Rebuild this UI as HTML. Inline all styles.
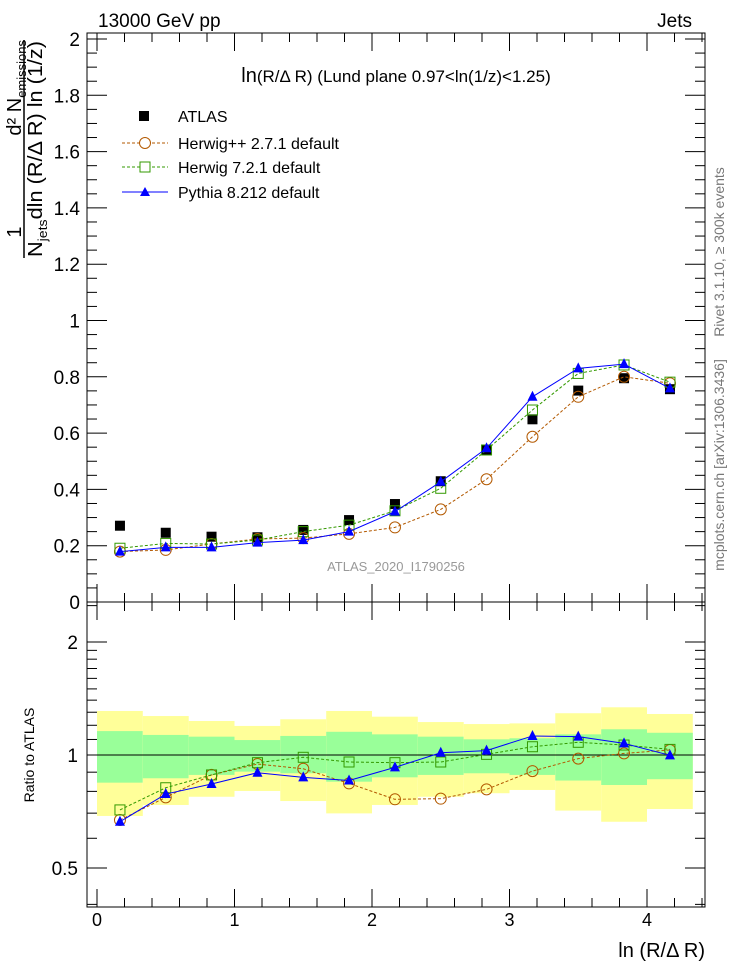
<!DOCTYPE html>
<html><head><meta charset="utf-8"><style>
html,body{margin:0;padding:0;background:#fff;}
svg{display:block;font-family:"Liberation Sans",sans-serif;}
</style></head><body>
<svg id="chart" width="746" height="972" xmlns="http://www.w3.org/2000/svg">
<g id="bands"></g>
<g id="axes"></g>
<g id="marks"></g>
<text x="98" y="27" font-size="19">13000 GeV pp</text>
<text x="692" y="27" font-size="19" text-anchor="end">Jets</text>
<text x="396" y="82" font-size="17" text-anchor="middle"><tspan font-size="20">ln</tspan>(R/Δ R) (Lund plane 0.97&lt;ln(1/z)&lt;1.25)</text>
<text x="396" y="571" font-size="13" fill="#999" text-anchor="middle">ATLAS_2020_I1790256</text>
<g>
 <rect x="139" y="111" width="10" height="10" fill="#000"/>
 <text x="178" y="122" font-size="16">ATLAS</text>
 <line x1="122" y1="143" x2="168" y2="143" stroke="#b35900" stroke-dasharray="3,2"/>
 <circle cx="145" cy="143" r="5.5" fill="#fff" stroke="#b35900"/>
 <text x="178" y="149" font-size="16">Herwig++ 2.7.1 default</text>
 <line x1="122" y1="167" x2="168" y2="167" stroke="#339900" stroke-dasharray="3,2"/>
 <rect x="140" y="162" width="10" height="10" fill="#fff" stroke="#339900"/>
 <text x="178" y="173" font-size="16">Herwig 7.2.1 default</text>
 <line x1="122" y1="192" x2="168" y2="192" stroke="#0000ff"/>
 <polygon points="145,187 150,196 140,196" fill="#0000ff"/>
 <text x="178" y="198" font-size="16">Pythia 8.212 default</text>
</g>
<g transform="translate(24,150) rotate(-90)">
 <text x="-82" y="-3" font-size="20" text-anchor="middle">1</text>
 <line x1="-108" y1="0" x2="110" y2="0" stroke="#000" stroke-width="1.5"/>
 <text x="110" y="-3" font-size="20" text-anchor="end">d² N<tspan font-size="13" dy="5">emissions</tspan></text>
 <text x="-107" y="18" font-size="20" textLength="216" lengthAdjust="spacingAndGlyphs">N<tspan font-size="13" dy="5">jets</tspan><tspan dy="-5">dln (R/Δ R) ln (1/z)</tspan></text>
</g>
<text transform="translate(34,755) rotate(-90)" font-size="14" text-anchor="middle">Ratio to ATLAS</text>
<text x="705" y="957" font-size="20" text-anchor="end">ln (R/Δ R)</text>
<text transform="translate(724,252) rotate(-90)" font-size="14" fill="#777" text-anchor="middle">Rivet 3.1.10, ≥ 300k events</text>
<text transform="translate(724,465) rotate(-90)" font-size="14" fill="#777" text-anchor="middle">mcplots.cern.ch [arXiv:1306.3436]</text>
</svg>
<script>
const xCenters=[0.167,0.5,0.833,1.167,1.5,1.833,2.167,2.5,2.833,3.167,3.5,3.833,4.167];
const binEdges=[0,0.333,0.667,1,1.333,1.667,2,2.333,2.667,3,3.333,3.667,4,4.333];
const atlas=[0.271,0.246,0.232,0.230,0.256,0.291,0.348,0.429,0.540,0.649,0.751,0.795,0.756];
const herwigpp=[0.179,0.185,0.206,0.224,0.227,0.242,0.265,0.329,0.436,0.587,0.729,0.800,0.777];
const herwig7=[0.191,0.208,0.206,0.220,0.250,0.273,0.324,0.404,0.540,0.682,0.812,0.842,0.781];
const pythia=[0.179,0.194,0.194,0.211,0.220,0.250,0.321,0.427,0.546,0.729,0.830,0.845,0.759];
const ratioHerwigpp=[0.671,0.771,0.885,0.946,0.919,0.840,0.762,0.765,0.810,0.906,0.978,1.010,1.031];
const ratioHerwig7=[0.714,0.818,0.885,0.954,0.986,0.958,0.954,0.958,1.004,1.052,1.081,1.063,1.035];
const ratioPythia=[0.664,0.787,0.837,0.897,0.872,0.855,0.927,1.014,1.027,1.124,1.119,1.074,0.998];
const band1Hi=[1.158,1.131,1.119,1.096,1.124,1.153,1.135,1.119,1.101,1.108,1.135,1.171,1.146];
const band1Lo=[0.844,0.867,0.885,0.903,0.894,0.849,0.872,0.885,0.894,0.885,0.855,0.832,0.862];
const band2Hi=[1.310,1.270,1.232,1.195,1.245,1.310,1.265,1.224,1.209,1.214,1.292,1.340,1.286];
const band2Lo=[0.688,0.736,0.774,0.802,0.754,0.699,0.736,0.774,0.791,0.807,0.711,0.664,0.718];
const xTickLabels=[0,1,2,3,4];
const yTickLabels=[0,0.2,0.4,0.6,0.8,1,1.2,1.4,1.6,1.8,2];
const ratioTickLabels=[0.5,1,2];

const NS="http://www.w3.org/2000/svg";
const L=87,R=705,T=33,MB=602,RB=907;
const X=v=>97+v*137.5;
const Y=v=>602-v*281.5;
const YR=v=>755-Math.log2(v)*113;
function mk(p,tag,at){const e=document.createElementNS(NS,tag);for(const k in at)e.setAttribute(k,at[k]);p.appendChild(e);return e;}
const bands=document.getElementById('bands'),axes=document.getElementById('axes'),marks=document.getElementById('marks');
for(let i=0;i<xCenters.length;i++){
 const x0=X(binEdges[i]),x1=X(binEdges[i+1]);
 const y2=mk(bands,'rect',{x:x0,y:YR(band2Hi[i]),width:x1-x0,height:YR(band2Lo[i])-YR(band2Hi[i]),fill:'#ffff99'});
 
 
 const g1=mk(bands,'rect',{x:x0,y:YR(band1Hi[i]),width:x1-x0,height:YR(band1Lo[i])-YR(band1Hi[i]),fill:'#99ff99'});
 
 
}
const f1=mk(axes,'rect',{x:L,y:T,width:R-L,height:MB-T,fill:'none',stroke:'#000','stroke-width':1});


const f2=mk(axes,'rect',{x:L,y:MB,width:R-L,height:RB-MB,fill:'none',stroke:'#000','stroke-width':1});


const one=mk(axes,'line',{x1:L,x2:R,y1:YR(1),y2:YR(1),stroke:'#000'});


for(let v=0;v<=4.4;v=Math.round((v+0.2)*10)/10){
 const maj=Math.abs(v-Math.round(v))<1e-6, len=maj?18:9, x=X(v);
 if(x>R)break;
 [[T,1],[MB,-1],[MB,1],[RB,-1]].forEach(([y,d])=>mk(axes,'line',{x1:x,x2:x,y1:y,y2:y+d*len,stroke:'#000'}));
}
xTickLabels.forEach(v=>{const t=mk(axes,'text',{x:X(v),y:926,'font-size':18,'text-anchor':'middle'});t.textContent=v;
 
 });
for(let k=0;k<=40;k++){const v=k*0.05,y=Y(v);if(y<T)break;const len=k%4==0?20:10;
 mk(axes,'line',{x1:L,x2:L+len,y1:y,y2:y,stroke:'#000'});mk(axes,'line',{x1:R,x2:R-len,y1:y,y2:y,stroke:'#000'});}
yTickLabels.forEach(v=>{const t=mk(axes,'text',{x:80,y:Y(v)+7,'font-size':19,'text-anchor':'end'});t.textContent=String(v);
 
 });
[0.4,0.5,0.6,0.7,0.8,0.9,1,1.1,1.2,1.3,1.4,1.5,1.6,1.7,1.8,1.9,2,2.5].forEach(v=>{const y=YR(v);if(y<MB||y>RB)return;
 const len=(v==0.5||v==1||v==2)?20:10;
 mk(axes,'line',{x1:L,x2:L+len,y1:y,y2:y,stroke:'#000'});mk(axes,'line',{x1:R,x2:R-len,y1:y,y2:y,stroke:'#000'});});
ratioTickLabels.forEach(v=>{const t=mk(axes,'text',{x:78,y:YR(v)+7,'font-size':19,'text-anchor':'end'});t.textContent=String(v);
 
 });
function series(vals,fy,color,dash,shape,name){
 const g=mk(marks,'g',{});
 
 
 if(color){mk(g,'polyline',{points:vals.map((v,i)=>X(xCenters[i])+','+fy(v)).join(' '),fill:'none',stroke:color,'stroke-width':1,'stroke-dasharray':dash||'none'});}
 vals.forEach((v,i)=>{const x=X(xCenters[i]),y=fy(v);let m;
  if(shape=='sq')m=mk(g,'rect',{x:x-5,y:y-5,width:10,height:10,fill:'#000'});
  else if(shape=='osq')m=mk(g,'rect',{x:x-5,y:y-5,width:10,height:10,fill:'none',stroke:color});
  else if(shape=='circ')m=mk(g,'circle',{cx:x,cy:y,r:5.5,fill:'none',stroke:color});
  else m=mk(g,'polygon',{points:`${x},${y-6} ${x+5},${y+4} ${x-5},${y+4}`,fill:color});
  
  });
}
series(atlas,Y,null,null,'sq','atlas-series');
series(herwigpp,Y,'#b35900','3,2','circ','herwigpp-series');
series(herwig7,Y,'#339900','3,2','osq','herwig7-series');
series(pythia,Y,'#0000ff',null,'tri','pythia-series');
series(ratioHerwigpp,YR,'#b35900','3,2','circ','ratio-herwigpp-series');
series(ratioHerwig7,YR,'#339900','3,2','osq','ratio-herwig7-series');
series(ratioPythia,YR,'#0000ff',null,'tri','ratio-pythia-series');
</script>
</body></html>
